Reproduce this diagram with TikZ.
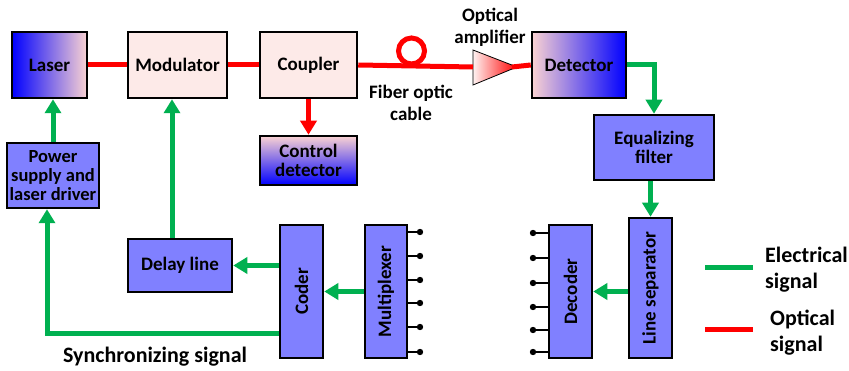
\documentclass[tikz,border=0pt]{standalone}
\usepackage{fontspec}
\setmainfont{Carlito}
\usepackage{graphicx}
\usetikzlibrary{arrows.meta}
\definecolor{boxblue}{RGB}{128,128,255}
\definecolor{lpink}{RGB}{253,234,232}
\definecolor{gpink}{RGB}{250,210,210}
\definecolor{sgreen}{RGB}{0,176,80}
\definecolor{sred}{RGB}{255,0,0}
\definecolor{pureblue}{RGB}{0,0,255}
\begin{document}
\begin{tikzpicture}[x=1pt,y=-1pt,
  box/.style={draw=black,line width=2.5pt,inner sep=1pt,align=center,
    font=\fontsize{19}{21}\selectfont\bfseries},
  bluebox/.style={box,fill=boxblue},
  pinkbox/.style={box,fill=lpink},
  garrow/.style={draw=sgreen,line width=5pt,-{Triangle[width=16pt,length=14pt]}},
  gline/.style={draw=sgreen,line width=5pt},
  rline/.style={draw=sred,line width=5pt},
  rarrow/.style={draw=sred,line width=5pt,-{Triangle[width=16pt,length=14pt]}},
  pin/.style={draw=black,line width=1.6pt},
  lbl/.style={align=center,inner sep=0pt,font=\fontsize{19}{22}\selectfont\bfseries},
  biglbl/.style={align=left,inner sep=0pt,font=\fontsize{22}{26}\selectfont\bfseries}]
\useasboundingbox (0,0) rectangle (849,371);

% top row
\node[box,minimum width=75pt,minimum height=66pt,left color=pureblue,right color=gpink] (laser) at (49.5,65) {Laser};
\node[pinkbox,minimum width=99pt,minimum height=66pt] (mod) at (177.5,65) {Modulator};
\node[pinkbox,minimum width=97pt,minimum height=66pt] (coup) at (308.5,65) {Coupler};
\node[box,minimum width=94pt,minimum height=66pt,left color=gpink,right color=pureblue] (det) at (579,65) {Detector};
\node[box,minimum width=97pt,minimum height=49pt,top color=gpink,bottom color=pureblue] (ctrl) at (308.5,160.5) {Control\\[-2pt]detector};

% left/bottom blocks
\node[bluebox,minimum width=92pt,minimum height=65pt,font=\fontsize{18.5}{21}\selectfont\bfseries] (power) at (53,175.5) {Power\\[-2pt]supply and\\[-2pt]laser driver};
\node[bluebox,minimum width=104pt,minimum height=53pt] (delay) at (180,265.5) {Delay line};
\node[bluebox,minimum width=43pt,minimum height=133pt] (coder) at (301.5,291.5) {\rotatebox{90}{Coder}};
\node[bluebox,minimum width=42pt,minimum height=133pt] (mux) at (386,291.5) {\rotatebox{90}{Multiplexer}};

% right blocks
\node[bluebox,minimum width=120pt,minimum height=65pt] (eq) at (654,147.5) {Equalizing\\[-2pt]filter};
\node[bluebox,minimum width=43pt,minimum height=140pt] (lsep) at (650.5,288) {\rotatebox{90}{Line separator}};
\node[bluebox,minimum width=43pt,minimum height=133pt] (dec) at (570.5,291.5) {\rotatebox{90}{Decoder}};

% optical amplifier
\coordinate (ampin) at (473,67);
\coordinate (ampout) at (517,67);
\shade[left color=lpink!60!white,right color=sred] (473,50) -- (517,67) -- (473,85) -- cycle;
\draw[black,line width=0.8pt] (473,50) -- (517,67) -- (473,85) -- cycle;

% optical lines
\draw[rline] (laser.east) -- (mod.west);
\draw[rline] (mod.east) -- (coup.west);
\draw[rline] (coup.east) -- (ampin);
\draw[rline] (411.5,51) circle[radius=13pt];
\draw[rline] (512,67) -- (det.west);
\draw[rarrow] (coup.south) -- (ctrl.north);

% electrical lines
\draw[garrow] (det.east) -| (eq.north);
\draw[garrow] (lsep.north |- eq.south) -- (lsep.north);
\draw[garrow] (lsep.west |- dec.east) -- (dec.east);
\draw[garrow] (mux.west) -- (coder.east);
\draw[garrow] (coder.west |- delay.east) -- (delay.east);
\draw[garrow] ([xshift=-8pt]delay.north) -- ([xshift=-8pt]delay.north |- mod.south);
\draw[garrow] (power.north) -- (power.north |- laser.south);
\coordinate (sy) at (47,334);
\draw[garrow] (coder.west |- sy) -- (sy) -- (sy |- power.south);

% pins
\foreach \yy [count=\i] in {232,256,280,303,327,352}{
  \coordinate (mp\i) at (420,\yy);
  \draw[pin] (mux.east |- mp\i) -- (mp\i);
  \fill (mp\i) circle[radius=3.2pt];
}
\foreach \yy [count=\i] in {233,258,283,307,330,352}{
  \coordinate (dp\i) at (533,\yy);
  \draw[pin] (dp\i) -- (dec.west |- dp\i);
  \fill (dp\i) circle[radius=3.2pt];
}

% labels
\node[lbl] (fib) at (411,103) {Fiber optic\\cable};
\node[lbl] (amp) at (490,27) {Optical\\amplifier};
\node[biglbl] (sync) at (155,357) {Synchronizing signal};

% legend
\coordinate (lg1) at (705,268);
\coordinate (lg2) at (753,268);
\coordinate (lr1) at (705,330);
\coordinate (lr2) at (753,330);
\draw[gline] (lg1) -- (lg2);
\draw[rline] (lr1) -- (lr2);
\node[biglbl,anchor=west] (le) at (765,270) {Electrical\\signal};
\node[biglbl,anchor=west] (lo) at (770,333) {Optical\\signal};
\end{tikzpicture}
\end{document}
